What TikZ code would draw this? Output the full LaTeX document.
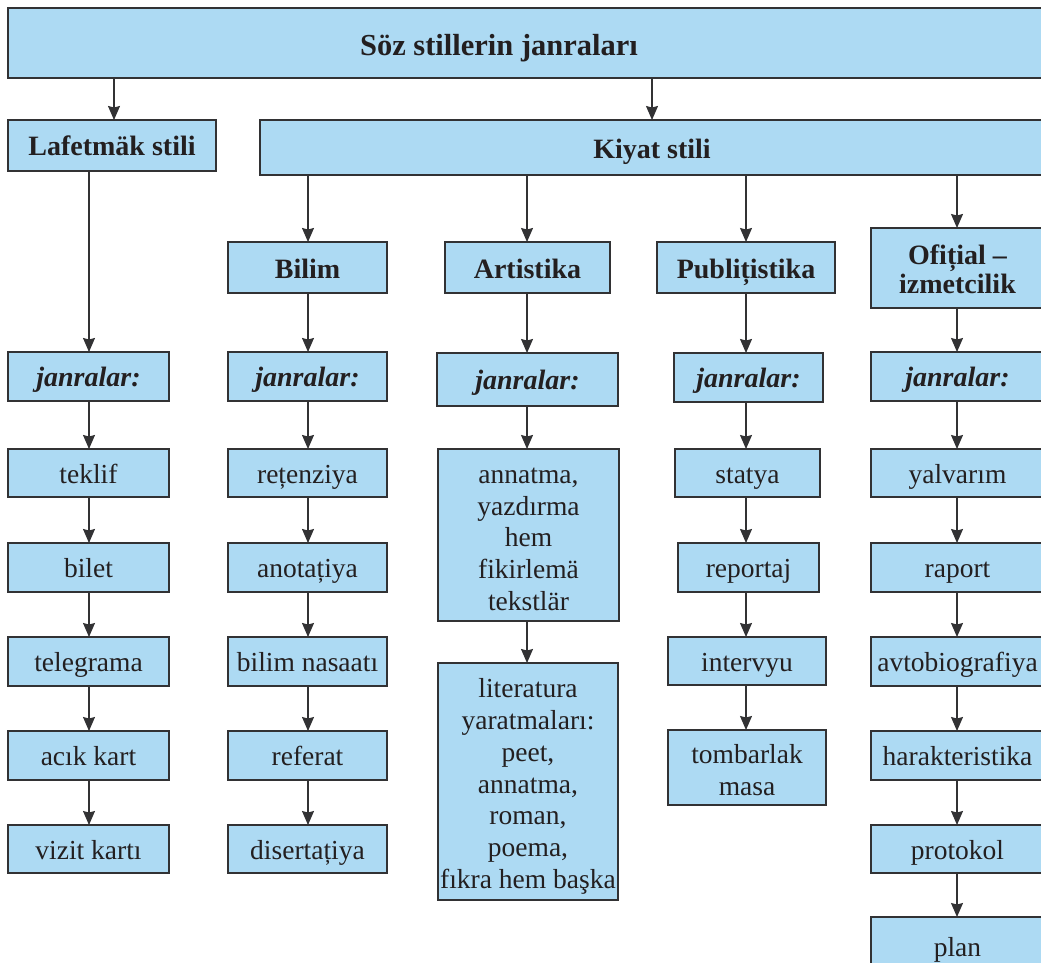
\documentclass[tikz,border=0pt]{standalone}
\usepackage{fontspec}
\setmainfont{Liberation Serif}
\usetikzlibrary{arrows.meta}
\definecolor{boxfill}{RGB}{173,218,243}
\definecolor{edgec}{RGB}{50,50,52}
\definecolor{inkc}{RGB}{35,31,32}
\newcommand\toppad[1]{\rule{0pt}{#1}}
\tikzset{
  box/.style={draw=edgec, line width=1.5pt, fill=boxfill, inner sep=0pt, outer sep=0pt,
    text=inkc, align=center, font=\fontsize{27.5}{31.8}\selectfont},
  onebox/.style={box, text height=22pt, text depth=1.4pt},
  headbox/.style={box, font=\bfseries\fontsize{28}{29}\selectfont},
  headone/.style={headbox, text height=22.4pt, text depth=1.4pt},
  genbox/.style={onebox, font=\bfseries\itshape\fontsize{28}{29}\selectfont},
  arr/.style={draw=edgec, line width=1.3pt, -{Stealth[length=14pt,width=12pt,inset=1.5pt]}},
}
\begin{document}
\begin{tikzpicture}[x=1pt,y=-1pt]
\useasboundingbox (0,0) rectangle (1041,963);

% top level
\node[box, minimum width=1036, minimum height=70] (top) at (526,43) {};
\node[text=inkc, inner sep=0pt, font=\bfseries\fontsize{30.5}{32}\selectfont] (toptext) at (499,48) {Söz stillerin janraları};

\node[headone, minimum width=208, minimum height=51] (laf) at (112,145.5) {Lafetmäk stili};
\node[headone, minimum width=784, minimum height=55] (kiyat) at (652,147.5) {Kiyat stili};

% second level under Kiyat stili
\node[headone, minimum width=159, minimum height=51] (b0) at (307.5,267.5) {Bilim};
\node[headone, minimum width=165, minimum height=51] (a0) at (527.5,267.5) {Artistika};
\node[headone, minimum width=178, minimum height=51] (p0) at (746,267.5) {Publițistika};
\node[headbox, minimum width=173, minimum height=80] (o0) at (957.5,268) {\toppad{22pt}Ofițial –\\izmetcilik};

% Lafetmäk stili column
\node[genbox, minimum width=161, minimum height=49] (l1) at (88.5,376.5) {janralar:};
\node[onebox, minimum width=161, minimum height=48] (l2) at (88.5,473) {teklif};
\node[onebox, minimum width=161, minimum height=49] (l3) at (88.5,567.5) {bilet};
\node[onebox, minimum width=161, minimum height=49] (l4) at (88.5,661.5) {telegrama};
\node[onebox, minimum width=161, minimum height=49] (l5) at (88.5,755.5) {acık kart};
\node[onebox, minimum width=161, minimum height=48] (l6) at (88.5,849) {vizit kartı};

% Bilim column
\node[genbox, minimum width=159, minimum height=49] (b1) at (307.5,376.5) {janralar:};
\node[onebox, minimum width=159, minimum height=48] (b2) at (307.5,473) {rețenziya};
\node[onebox, minimum width=159, minimum height=49] (b3) at (307.5,567.5) {anotațiya};
\node[onebox, minimum width=159, minimum height=49] (b4) at (307.5,661.5) {bilim nasaatı};
\node[onebox, minimum width=159, minimum height=49] (b5) at (307.5,755.5) {referat};
\node[onebox, minimum width=159, minimum height=48] (b6) at (307.5,849) {disertațiya};

% Artistika column
\node[genbox, minimum width=181, minimum height=53] (a1) at (527.5,379.5) {janralar:};
\node[box, minimum width=181, minimum height=172] (a2) at (528.5,535) {\toppad{24pt}annatma,\\yazdırma\\hem\\fikirlemä\\tekstlär};
\node[box, minimum width=180, minimum height=237] (a3) at (528,781.5) {\toppad{29pt}literatura\\yaratmaları:\\peet,\\annatma,\\roman,\\poema,\\fıkra hem başka};

% Publițistika column
\node[genbox, minimum width=149, minimum height=49] (p1) at (748.5,377.5) {janralar:};
\node[onebox, minimum width=145, minimum height=48] (p2) at (747.5,473) {statya};
\node[onebox, minimum width=141, minimum height=49] (p3) at (748.5,567.5) {reportaj};
\node[onebox, minimum width=158, minimum height=48] (p4) at (747,661) {intervyu};
\node[box, minimum width=158, minimum height=75] (p5) at (747,767.5) {\toppad{25pt}tombarlak\\masa};

% Ofițial – izmetcilik column
\node[genbox, minimum width=173, minimum height=49] (o1) at (957.5,376.5) {janralar:};
\node[onebox, minimum width=173, minimum height=48] (o2) at (957.5,473) {yalvarım};
\node[onebox, minimum width=173, minimum height=49] (o3) at (957.5,567.5) {raport};
\node[onebox, minimum width=173, minimum height=49] (o4) at (957.5,661.5) {avtobiografiya};
\node[onebox, minimum width=173, minimum height=49] (o5) at (957.5,755.5) {harakteristika};
\node[onebox, minimum width=173, minimum height=48] (o6) at (957.5,849) {protokol};
\node[onebox, minimum width=173, minimum height=58] (o7) at (957.5,946) {plan};

% column axes for the connectors
\coordinate (axL) at (89,0);
\coordinate (axB) at (308,0);
\coordinate (axA) at (527,0);
\coordinate (axP) at (746,0);
\coordinate (axO) at (957,0);
\coordinate (axT) at (114,0);

% connectors
\draw[arr] (top.south -| axT) -- (laf.north -| axT);
\draw[arr] (top.south -| kiyat.north) -- (kiyat.north);
\draw[arr] (laf.south -| axL) -- (l1.north -| axL);
\draw[arr] (kiyat.south -| axB) -- (b0.north -| axB);
\draw[arr] (kiyat.south -| axA) -- (a0.north -| axA);
\draw[arr] (kiyat.south -| axP) -- (p0.north -| axP);
\draw[arr] (kiyat.south -| axO) -- (o0.north -| axO);

\foreach \u/\v in {l1/l2,l2/l3,l3/l4,l4/l5,l5/l6}
  \draw[arr] (\u.south -| axL) -- (\v.north -| axL);
\foreach \u/\v in {b0/b1,b1/b2,b2/b3,b3/b4,b4/b5,b5/b6}
  \draw[arr] (\u.south -| axB) -- (\v.north -| axB);
\foreach \u/\v in {a0/a1,a1/a2,a2/a3}
  \draw[arr] (\u.south -| axA) -- (\v.north -| axA);
\foreach \u/\v in {p0/p1,p1/p2,p2/p3,p3/p4,p4/p5}
  \draw[arr] (\u.south -| axP) -- (\v.north -| axP);
\foreach \u/\v in {o0/o1,o1/o2,o2/o3,o3/o4,o4/o5,o5/o6,o6/o7}
  \draw[arr] (\u.south -| axO) -- (\v.north -| axO);
\end{tikzpicture}
\end{document}
